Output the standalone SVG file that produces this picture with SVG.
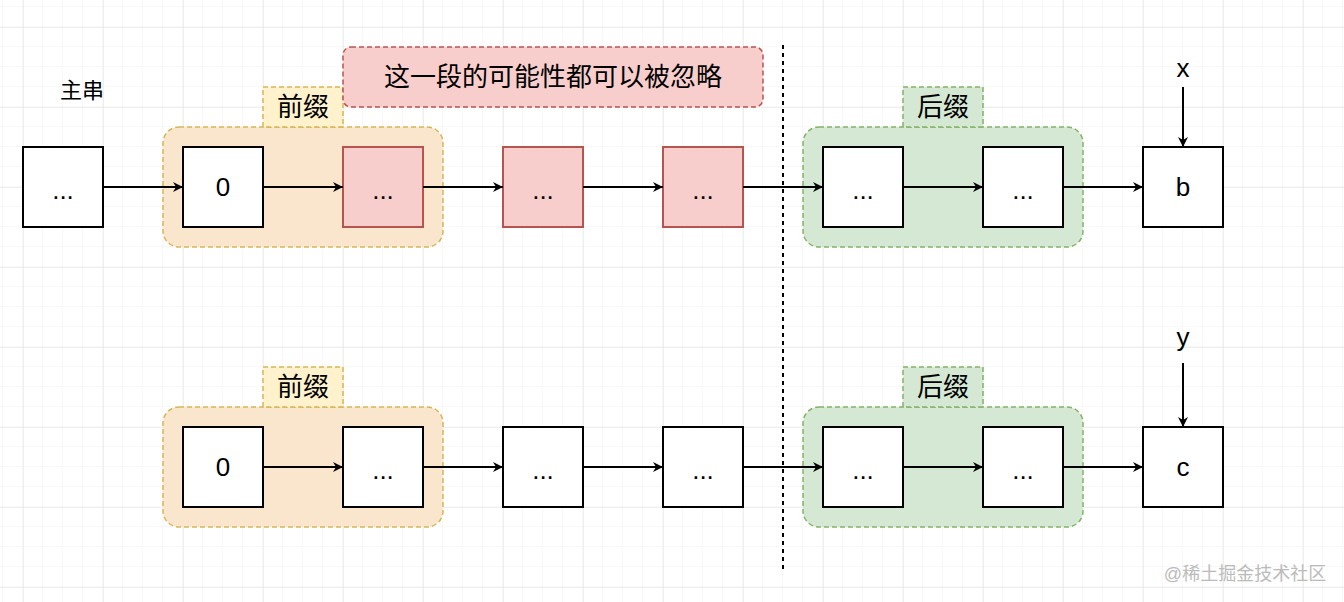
<svg xmlns="http://www.w3.org/2000/svg" width="1344" height="602" viewBox="0 0 1344 602">
<defs>
<pattern id="minor" width="20" height="20" patternUnits="userSpaceOnUse" x="3" y="7"><path d="M20 0V20M0 20H20" fill="none" stroke="#f0f0f0" stroke-width="1"/></pattern>
<pattern id="major" width="80" height="80" patternUnits="userSpaceOnUse" x="23" y="27"><path d="M0 0V80M0 0H80" fill="none" stroke="#e0e0e0" stroke-width="1"/></pattern>
<marker id="ah" viewBox="0 0 10 10" refX="10" refY="5" markerWidth="10" markerHeight="10" markerUnits="userSpaceOnUse" orient="auto"><path d="M0 0L10 5L0 10L3 5Z" fill="#000"/></marker>
</defs>
<style>
text{font-family:"Liberation Sans","Noto Sans CJK SC",sans-serif;fill:#000;text-anchor:middle;dominant-baseline:central}
.n{fill:#fff;stroke:#000;stroke-width:2}
.r{fill:#f8cecc;stroke:#b85450;stroke-width:2}
.pg{fill:#fae6cc;stroke:#d6b656;stroke-width:1.5;stroke-dasharray:5 3}
.pl{fill:#fff2cc;stroke:#d6b656;stroke-width:1.5;stroke-dasharray:5 3}
.sg{fill:#d5e8d4;stroke:#82b366;stroke-width:1.5;stroke-dasharray:5 3}
.sl{fill:#d5e8d4;stroke:#82b366;stroke-width:1.5;stroke-dasharray:5 3}
.c{stroke:#000;stroke-width:2;fill:none;marker-end:url(#ah)}
.t{font-size:26px}
.l{font-size:26px}
</style>
<rect width="1344" height="602" fill="#fff"/>
<rect width="1344" height="602" fill="url(#minor)"/>
<rect width="1344" height="602" fill="url(#major)"/>
<g id="groups">
<rect class="pg" x="163" y="127" width="280" height="120" rx="16"/>
<rect class="pl" x="263" y="87" width="80" height="40"/>
<text class="l" x="303" y="107">前缀</text>
<rect class="sg" x="803" y="127" width="280" height="120" rx="16"/>
<rect class="sl" x="903" y="87" width="80" height="40"/>
<text class="l" x="943" y="107">后缀</text>
<rect class="pg" x="163" y="407" width="280" height="120" rx="16"/>
<rect class="pl" x="263" y="367" width="80" height="40"/>
<text class="l" x="303" y="387">前缀</text>
<rect class="sg" x="803" y="407" width="280" height="120" rx="16"/>
<rect class="sl" x="903" y="367" width="80" height="40"/>
<text class="l" x="943" y="387">后缀</text>
</g>
<g id="note"><rect x="343" y="47" width="420" height="60" rx="8" fill="#f8cecc" stroke="#b85450" stroke-width="1.5" stroke-dasharray="5 3"/><text class="t" x="553" y="77">这一段的可能性都可以被忽略</text></g>
<text x="82" y="90" font-size="22">主串</text>
<line x1="783" y1="45" x2="783" y2="570" stroke="#000" stroke-width="2" stroke-dasharray="4 4"/>
<g id="row1">
<g id="a1"><rect class="n" x="23" y="147" width="80" height="80"/><text class="t" x="63" y="190">...</text></g>
<g id="a2"><rect class="n" x="183" y="147" width="80" height="80"/><text class="t" x="223" y="187">0</text></g>
<g id="a3"><rect class="r" x="343" y="147" width="80" height="80"/><text class="t" x="383" y="190">...</text></g>
<g id="a4"><rect class="r" x="503" y="147" width="80" height="80"/><text class="t" x="543" y="190">...</text></g>
<g id="a5"><rect class="r" x="663" y="147" width="80" height="80"/><text class="t" x="703" y="190">...</text></g>
<g id="a6"><rect class="n" x="823" y="147" width="80" height="80"/><text class="t" x="863" y="190">...</text></g>
<g id="a7"><rect class="n" x="983" y="147" width="80" height="80"/><text class="t" x="1023" y="190">...</text></g>
<g id="a8"><rect class="n" x="1143" y="147" width="80" height="80"/><text class="t" x="1183" y="187">b</text></g>
<text class="t" x="1183" y="68">x</text>
</g>
<g id="row2">
<g id="b2"><rect class="n" x="183" y="427" width="80" height="80"/><text class="t" x="223" y="467">0</text></g>
<g id="b3"><rect class="n" x="343" y="427" width="80" height="80"/><text class="t" x="383" y="470">...</text></g>
<g id="b4"><rect class="n" x="503" y="427" width="80" height="80"/><text class="t" x="543" y="470">...</text></g>
<g id="b5"><rect class="n" x="663" y="427" width="80" height="80"/><text class="t" x="703" y="470">...</text></g>
<g id="b6"><rect class="n" x="823" y="427" width="80" height="80"/><text class="t" x="863" y="470">...</text></g>
<g id="b7"><rect class="n" x="983" y="427" width="80" height="80"/><text class="t" x="1023" y="470">...</text></g>
<g id="b8"><rect class="n" x="1143" y="427" width="80" height="80"/><text class="t" x="1183" y="467">c</text></g>
<text class="t" x="1183" y="337">y</text>
</g>
<g id="connectors">
<path class="c" d="M103 187H183"/><path class="c" d="M263 187H343"/><path class="c" d="M423 187H503"/><path class="c" d="M583 187H663"/><path class="c" d="M743 187H823"/><path class="c" d="M903 187H983"/><path class="c" d="M1063 187H1143"/>
<path class="c" d="M1183 87V147"/>
<path class="c" d="M263 467H343"/><path class="c" d="M423 467H503"/><path class="c" d="M583 467H663"/><path class="c" d="M743 467H823"/><path class="c" d="M903 467H983"/><path class="c" d="M1063 467H1143"/>
<path class="c" d="M1183 363V427"/>
</g>
<text x="1245" y="574" font-size="18" fill="#bbb" style="fill:#bbb">@稀土掘金技术社区</text>
</svg>
